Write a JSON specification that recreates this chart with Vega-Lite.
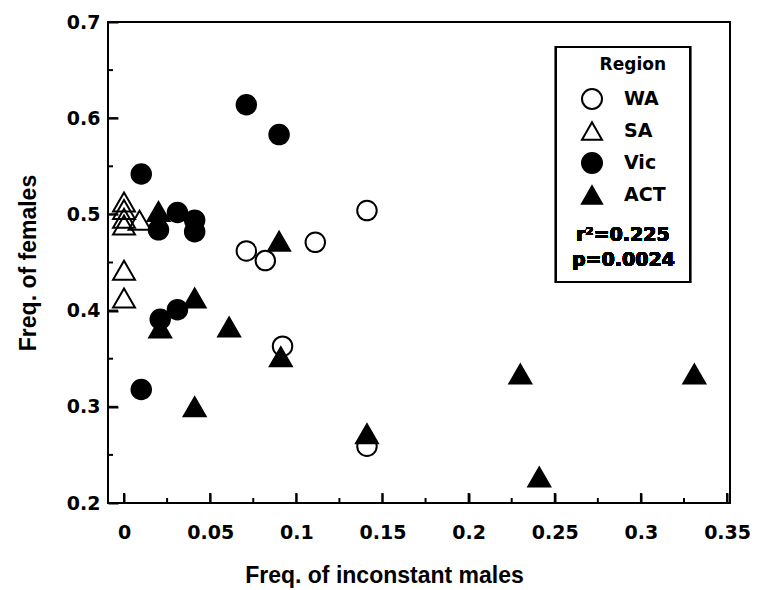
{
  "$schema": "https://vega.github.io/schema/vega-lite/v6.json",
  "width": 622,
  "height": 481,
  "autosize": {"type": "none"},
  "padding": {"left": 108, "top": 22, "right": 29, "bottom": 87},
  "background": "white",
  "config": {
    "view": {"stroke": "black", "strokeWidth": 2},
    "font": "Liberation Sans",
    "axis": {
      "domainColor": "black",
      "domainWidth": 2,
      "tickColor": "black",
      "tickWidth": 2,
      "grid": false,
      "labelFont": "DejaVu Sans",
      "labelFontWeight": "bold",
      "labelFontSize": 19,
      "labelColor": "black",
      "titleFont": "Liberation Sans",
      "titleFontWeight": "bold",
      "titleFontSize": 23,
      "titleColor": "black"
    },
    "legend": {
      "labelFont": "DejaVu Sans",
      "labelFontWeight": "bold",
      "labelFontSize": 19,
      "labelColor": "black",
      "titleFont": "DejaVu Sans",
      "titleFontWeight": "bold",
      "titleFontSize": 17,
      "titleColor": "black"
    }
  },
  "resolve": {"axis": {"x": "independent", "y": "independent"}},
  "data": {
    "values": [
      {"region": "WA", "inconstant": 0.071, "females": 0.462},
      {"region": "WA", "inconstant": 0.082, "females": 0.452},
      {"region": "WA", "inconstant": 0.111, "females": 0.471},
      {"region": "WA", "inconstant": 0.141, "females": 0.504},
      {"region": "WA", "inconstant": 0.092, "females": 0.363},
      {"region": "WA", "inconstant": 0.141, "females": 0.259},
      {"region": "SA", "inconstant": 0.0, "females": 0.513},
      {"region": "SA", "inconstant": 0.0, "females": 0.505},
      {"region": "SA", "inconstant": 0.0, "females": 0.496},
      {"region": "SA", "inconstant": 0.0, "females": 0.489},
      {"region": "SA", "inconstant": 0.009, "females": 0.494},
      {"region": "SA", "inconstant": 0.0, "females": 0.442},
      {"region": "SA", "inconstant": 0.0, "females": 0.413},
      {"region": "Vic", "inconstant": 0.071, "females": 0.614},
      {"region": "Vic", "inconstant": 0.09, "females": 0.583},
      {"region": "Vic", "inconstant": 0.01, "females": 0.542},
      {"region": "Vic", "inconstant": 0.02, "females": 0.484},
      {"region": "Vic", "inconstant": 0.031, "females": 0.502},
      {"region": "Vic", "inconstant": 0.041, "females": 0.494},
      {"region": "Vic", "inconstant": 0.041, "females": 0.482},
      {"region": "Vic", "inconstant": 0.021, "females": 0.391},
      {"region": "Vic", "inconstant": 0.031, "females": 0.401},
      {"region": "Vic", "inconstant": 0.01, "females": 0.318},
      {"region": "ACT", "inconstant": 0.02, "females": 0.503},
      {"region": "ACT", "inconstant": 0.021, "females": 0.382},
      {"region": "ACT", "inconstant": 0.041, "females": 0.413},
      {"region": "ACT", "inconstant": 0.061, "females": 0.383},
      {"region": "ACT", "inconstant": 0.041, "females": 0.3},
      {"region": "ACT", "inconstant": 0.09, "females": 0.472},
      {"region": "ACT", "inconstant": 0.091, "females": 0.352},
      {"region": "ACT", "inconstant": 0.141, "females": 0.272},
      {"region": "ACT", "inconstant": 0.23, "females": 0.334},
      {"region": "ACT", "inconstant": 0.241, "females": 0.227},
      {"region": "ACT", "inconstant": 0.331, "females": 0.334}
    ]
  },
  "layer": [
    {
      "mark": {"type": "rect", "fill": null, "stroke": "black", "strokeWidth": 2},
      "encoding": {
        "x": {"datum": 0.2507, "type": "quantitative", "scale": {"domain": [-0.0093, 0.3517], "nice": false, "zero": false}, "axis": null},
        "x2": {"datum": 0.3285},
        "y": {"datum": 0.674, "type": "quantitative", "scale": {"domain": [0.2, 0.7], "nice": false, "zero": false}, "axis": null},
        "y2": {"datum": 0.4297}
      }
    },
    {
      "data": {"values": [{"tick": 0}, {"tick": 0.05}, {"tick": 0.1}, {"tick": 0.15}, {"tick": 0.2}, {"tick": 0.25}, {"tick": 0.3}, {"tick": 0.35}]},
      "mark": {"type": "tick", "orient": "vertical", "size": 10, "thickness": 2, "color": "black", "yOffset": -5, "opacity": 1},
      "encoding": {
        "x": {"field": "tick", "type": "quantitative", "axis": null},
        "y": {"datum": 0.2, "type": "quantitative", "axis": null}
      }
    },
    {
      "data": {"values": [{"tick": 0.025}, {"tick": 0.075}, {"tick": 0.125}, {"tick": 0.175}, {"tick": 0.225}, {"tick": 0.275}, {"tick": 0.325}]},
      "mark": {"type": "tick", "orient": "vertical", "size": 5, "thickness": 2, "color": "black", "yOffset": -2.5, "opacity": 1},
      "encoding": {
        "x": {"field": "tick", "type": "quantitative", "axis": null},
        "y": {"datum": 0.2, "type": "quantitative", "axis": null}
      }
    },
    {
      "data": {"values": [{"tick": 0.2}, {"tick": 0.3}, {"tick": 0.4}, {"tick": 0.5}, {"tick": 0.6}, {"tick": 0.7}]},
      "mark": {"type": "tick", "orient": "horizontal", "size": 10, "thickness": 2, "color": "black", "xOffset": 5, "opacity": 1},
      "encoding": {
        "y": {"field": "tick", "type": "quantitative", "axis": null},
        "x": {"datum": -0.0093, "type": "quantitative", "axis": null}
      }
    },
    {
      "data": {"values": [{"tick": 0.25}, {"tick": 0.35}, {"tick": 0.45}, {"tick": 0.55}, {"tick": 0.65}]},
      "mark": {"type": "tick", "orient": "horizontal", "size": 5, "thickness": 2, "color": "black", "xOffset": 2.5, "opacity": 1},
      "encoding": {
        "y": {"field": "tick", "type": "quantitative", "axis": null},
        "x": {"datum": -0.0093, "type": "quantitative", "axis": null}
      }
    },
    {
      "transform": [{"filter": "datum.region == 'WA' || datum.region == 'Vic'"}],
      "mark": {"type": "point", "filled": true, "strokeWidth": 2, "opacity": 1, "size": 380},
      "encoding": {
        "x": {
          "field": "inconstant",
          "type": "quantitative",
          "scale": {"domain": [-0.0093, 0.3517], "nice": false, "zero": false},
          "axis": {
            "orient": "bottom",
            "title": "Freq. of inconstant males",
            "values": [0, 0.05, 0.1, 0.15, 0.2, 0.25, 0.3, 0.35],
            "labelExpr": "format(datum.value, '~g')",
            "domain": false,
            "tickSize": 10,
            "offset": -10,
            "labelPadding": 20,
            "titlePadding": 22,
            "titleX": 276
          }
        },
        "y": {
          "field": "females",
          "type": "quantitative",
          "scale": {"domain": [0.2, 0.7], "nice": false, "zero": false},
          "axis": {
            "orient": "left",
            "title": "Freq. of females",
            "values": [0.2, 0.3, 0.4, 0.5, 0.6, 0.7],
            "labelExpr": "format(datum.value, '~g')",
            "domain": false,
            "tickSize": 10,
            "offset": -10,
            "labelPadding": 8,
            "titlePadding": 26
          }
        },
        "shape": {
          "field": "region",
          "type": "nominal",
          "scale": {"domain": ["WA", "SA", "Vic", "ACT"], "range": ["circle", "triangle-up", "circle", "triangle-up"]},
          "legend": {
            "title": "Region",
            "orient": "none",
            "legendX": 473,
            "legendY": 35,
            "padding": 0,
            "symbolSize": 400,
            "symbolStrokeWidth": 2,
            "labelOffset": 21,
            "rowPadding": 5,
            "titlePadding": 14,
            "titleAnchor": "end"
          }
        },
        "fill": {
          "field": "region",
          "type": "nominal",
          "scale": {"domain": ["WA", "SA", "Vic", "ACT"], "range": ["transparent", "transparent", "black", "black"]},
          "legend": {
            "title": "Region",
            "orient": "none",
            "legendX": 473,
            "legendY": 35,
            "padding": 0,
            "symbolSize": 400,
            "symbolStrokeWidth": 2,
            "labelOffset": 21,
            "rowPadding": 5,
            "titlePadding": 14,
            "titleAnchor": "end"
          }
        },
        "stroke": {
          "field": "region",
          "type": "nominal",
          "scale": {"domain": ["WA", "SA", "Vic", "ACT"], "range": ["black", "black", "black", "black"]},
          "legend": {
            "title": "Region",
            "orient": "none",
            "legendX": 473,
            "legendY": 35,
            "padding": 0,
            "symbolSize": 400,
            "symbolStrokeWidth": 2,
            "labelOffset": 21,
            "rowPadding": 5,
            "titlePadding": 14,
            "titleAnchor": "end"
          }
        }
      }
    },
    {
      "transform": [{"filter": "datum.region == 'SA' || datum.region == 'ACT'"}],
      "mark": {"type": "point", "filled": true, "strokeWidth": 2, "opacity": 1, "size": 480},
      "encoding": {
        "x": {"field": "inconstant", "type": "quantitative", "axis": null},
        "y": {"field": "females", "type": "quantitative", "axis": null},
        "shape": {"field": "region", "type": "nominal"},
        "fill": {"field": "region", "type": "nominal"},
        "stroke": {"field": "region", "type": "nominal"}
      }
    },
    {
      "mark": {"type": "text", "align": "left", "baseline": "middle", "fontSize": 19, "fontWeight": "bold", "font": "DejaVu Sans", "color": "black", "text": "r²=0.225"},
      "encoding": {"x": {"datum": 0.2623, "axis": null}, "y": {"datum": 0.4786, "axis": null}}
    },
    {
      "mark": {"type": "text", "align": "left", "baseline": "middle", "fontSize": 19, "fontWeight": "bold", "font": "DejaVu Sans", "color": "black", "text": "p=0.0024"},
      "encoding": {"x": {"datum": 0.26, "axis": null}, "y": {"datum": 0.4526, "axis": null}}
    }
  ]
}
